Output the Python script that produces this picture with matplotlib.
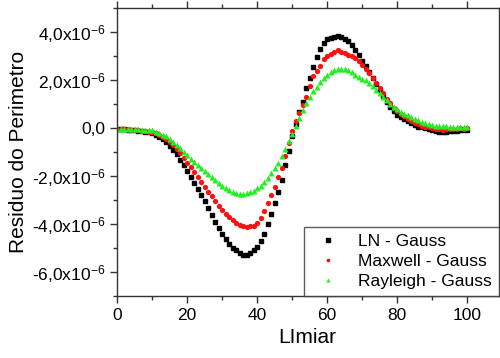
import matplotlib
matplotlib.use("Agg")
import matplotlib.pyplot as plt
from matplotlib.ticker import FixedLocator, MultipleLocator, FuncFormatter
import numpy as np

plt.rcParams['font.family'] = ['Liberation Sans', 'DejaVu Sans']
plt.rcParams['mathtext.fontset'] = 'custom'
plt.rcParams['mathtext.rm'] = 'Liberation Sans'
plt.rcParams['mathtext.it'] = 'Liberation Sans'

# Threshold values (Limiar)
limiar = list(range(0, 101))

# Perimeter residuals, units of 1e-6
ln_gauss = [
    -0.05, -0.05, -0.06, -0.07, -0.08, -0.10, -0.12, -0.14, -0.16, -0.18,
    -0.22, -0.28, -0.36, -0.46, -0.60, -0.75, -0.92, -1.10, -1.32, -1.55,
    -1.80, -2.05, -2.30, -2.55, -2.80, -3.05, -3.35, -3.62, -3.90, -4.15,
    -4.40, -4.62, -4.82, -5.00, -5.10, -5.22, -5.30, -5.28, -5.22, -5.10,
    -4.95, -4.72, -4.42, -4.02, -3.60, -3.12, -2.66, -2.16, -1.56, -0.95,
    -0.32, 0.18, 0.65, 1.08, 1.65, 2.10, 2.52, 2.95, 3.30, 3.55,
    3.72, 3.76, 3.78, 3.83, 3.80, 3.72, 3.62, 3.45, 3.25, 3.02,
    2.80, 2.58, 2.35, 2.10, 1.85, 1.60, 1.32, 1.06, 0.86, 0.70,
    0.56, 0.45, 0.36, 0.28, 0.20, 0.12, 0.06, 0.02, -0.02, -0.06,
    -0.10, -0.13, -0.15, -0.16, -0.15, -0.14, -0.12, -0.12, -0.10, -0.09,
    -0.08,
]

maxwell_gauss = [
    -0.05, -0.05, -0.05, -0.06, -0.07, -0.08, -0.10, -0.11, -0.13, -0.15,
    -0.18, -0.22, -0.28, -0.36, -0.46, -0.58, -0.72, -0.88, -1.05, -1.25,
    -1.45, -1.62, -1.85, -2.05, -2.25, -2.45, -2.65, -2.85, -3.05, -3.25,
    -3.42, -3.58, -3.72, -3.85, -3.95, -4.05, -4.10, -4.12, -4.10, -4.08,
    -3.96, -3.75, -3.45, -3.12, -2.80, -2.45, -2.05, -1.65, -1.15, -0.62,
    -0.12, 0.30, 0.62, 0.95, 1.30, 1.75, 2.15, 2.38, 2.58, 2.88,
    3.00, 3.08, 3.15, 3.25, 3.18, 3.12, 3.05, 2.98, 2.90, 2.78,
    2.62, 2.45, 2.28, 2.08, 1.88, 1.66, 1.46, 1.22, 1.02, 0.85,
    0.70, 0.58, 0.48, 0.38, 0.30, 0.22, 0.16, 0.10, 0.05, 0.02,
    -0.02, -0.04, -0.06, -0.07, -0.06, -0.05, -0.04, -0.03, -0.02, -0.03,
    -0.02,
]

rayleigh_gauss = [
    -0.03, -0.03, -0.03, -0.04, -0.04, -0.05, -0.06, -0.07, -0.08, -0.09,
    -0.10, -0.15, -0.22, -0.28, -0.35, -0.45, -0.58, -0.72, -0.85, -1.00,
    -1.12, -1.28, -1.42, -1.56, -1.68, -1.80, -1.92, -2.05, -2.18, -2.30,
    -2.42, -2.52, -2.60, -2.67, -2.72, -2.75, -2.75, -2.72, -2.68, -2.62,
    -2.52, -2.40, -2.25, -2.08, -1.88, -1.65, -1.45, -1.18, -0.88, -0.55,
    -0.25, 0.10, 0.40, 0.75, 1.05, 1.30, 1.52, 1.72, 1.90, 2.08,
    2.22, 2.32, 2.40, 2.44, 2.45, 2.44, 2.40, 2.32, 2.22, 2.12,
    2.05, 2.00, 1.88, 1.75, 1.60, 1.45, 1.30, 1.15, 1.00, 0.88,
    0.78, 0.68, 0.60, 0.52, 0.45, 0.38, 0.32, 0.26, 0.20, 0.16,
    0.13, 0.10, 0.10, 0.08, 0.07, 0.06, 0.05, 0.06, 0.05, 0.04,
    0.03,
]

series_labels = ["LN - Gauss", "Maxwell - Gauss", "Rayleigh - Gauss"]
x_ticks = [0, 20, 40, 60, 80, 100]
y_ticks = [-6.0, -4.0, -2.0, 0.0, 2.0, 4.0]

scale = 1e-6

fig = plt.figure(figsize=(5.0, 3.58), dpi=100)
ax = fig.add_axes([0.234, 0.173, 0.763, 0.805])

ax.plot(limiar, np.array(ln_gauss) * scale, ls='none', marker='s', ms=3.3,
        color='black', label=series_labels[0])
ax.plot(limiar, np.array(maxwell_gauss) * scale, ls='none', marker='o', ms=3.8,
        color='#ff1010', mec='none', label=series_labels[1])
ax.plot(limiar, np.array(rayleigh_gauss) * scale, ls='none', marker='^', ms=4.2,
        color='#22ee22', mec='none', label=series_labels[2])

ax.set_xlim(0, 109)
ax.set_ylim(-7e-6, 5e-6)

ax.xaxis.set_major_locator(FixedLocator(x_ticks))
ax.xaxis.set_minor_locator(MultipleLocator(10))
ax.yaxis.set_major_locator(FixedLocator([v * scale for v in y_ticks]))
ax.yaxis.set_minor_locator(MultipleLocator(1e-6))


def y_fmt(v, pos):
    m = v / scale
    if abs(m) < 1e-9:
        return "0,0"
    s = f"{m:.1f}".replace('.', ',')
    return s + r"x10$^{-6}$"


ax.yaxis.set_major_formatter(FuncFormatter(y_fmt))

ax.tick_params(which='both', direction='out', labelsize=12.5, color='#333333')
ax.tick_params(which='major', length=5, width=1)
ax.tick_params(which='minor', length=3, width=1)
ax.tick_params(which='both', top=True, right=True)
for s in ax.spines.values():
    s.set_color('#333333')
    s.set_linewidth(1.0)

ax.set_xlabel("LImiar", fontsize=15, labelpad=4)
ax.set_ylabel("Residuo do Perimetro", fontsize=15)
ax.yaxis.set_label_coords(-0.232, 0.5)

leg = ax.legend(loc='lower right', fontsize=12.5, frameon=True, fancybox=False,
                borderaxespad=0.0, handlelength=2.0, handletextpad=0.7,
                labelspacing=0.28, borderpad=0.4, markerscale=0.7)
leg.get_frame().set_edgecolor('#333333')
leg.get_frame().set_linewidth(1.0)

fig.savefig("out.png", dpi=100)
